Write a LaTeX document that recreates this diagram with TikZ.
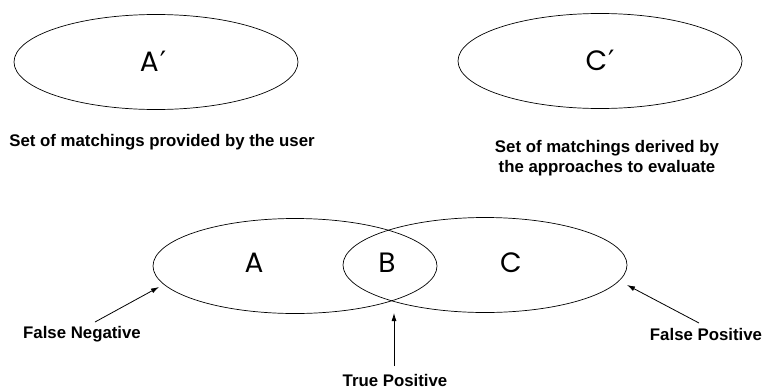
\documentclass[tikz,border=0pt]{standalone}
\usepackage{fontspec}
\setmainfont{Liberation Sans}
\newfontfamily\geofont{Poppins}
\newfontfamily\primefont{DejaVu Sans}
\usetikzlibrary{shapes.geometric,arrows.meta}
\begin{document}
\begin{tikzpicture}[x=1pt,y=-1pt,
  setshape/.style={draw, ellipse, line width=0.7pt, inner sep=0pt, minimum width=284pt, minimum height=95pt},
  bigletter/.style={font=\geofont\fontsize{28}{32}\selectfont, inner sep=0pt},
  caption/.style={font=\bfseries\fontsize{16.8}{19.5}\selectfont, align=center, inner sep=0pt},
  pointer/.style={-{Latex[length=8pt,width=5pt]}, line width=0.8pt}]
\useasboundingbox (0,0) rectangle (765,391);
% top sets
\node[setshape] (Ap) at (156,62) {};
\node[bigletter] (Aplabel) at (153,61) {A\kern1pt{\primefont\fontsize{28}{32}\selectfont′}};
\node[setshape] (Cp) at (600,61) {};
\node[bigletter] (Cplabel) at (600,60) {C\kern1pt{\primefont\fontsize{28}{32}\selectfont′}};
\node[caption] (user) at (162,142) {Set of matchings provided by the user};
\node[caption] (derived) at (607,158) {Set of matchings derived by\\the approaches to evaluate};
% bottom sets
\node[setshape] (A) at (295,266) {};
\node[setshape] (C) at (485,265) {};
\node[bigletter] (Alabel) at (254,263) {A};
\node[bigletter] (Blabel) at (387,263) {B};
\node[bigletter] (Clabel) at (511,263) {C};
% captions
\node[caption] (fn) at (82,334) {False Negative};
\node[caption] (tp) at (395,380) {True Positive};
\node[caption] (fp) at (706,334) {False Positive};
% connector ends
\coordinate (fntail) at (95,322);
\coordinate (fntip) at (159,287);
\coordinate (tptail) at (394,366);
\coordinate (tptip) at (394,313);
\coordinate (fptail) at (699,323);
\coordinate (fptip) at (627,285);
\draw[pointer] (fntail) -- (fntip);
\draw[pointer] (tptail) -- (tptip);
\draw[pointer] (fptail) -- (fptip);
\end{tikzpicture}
\end{document}
